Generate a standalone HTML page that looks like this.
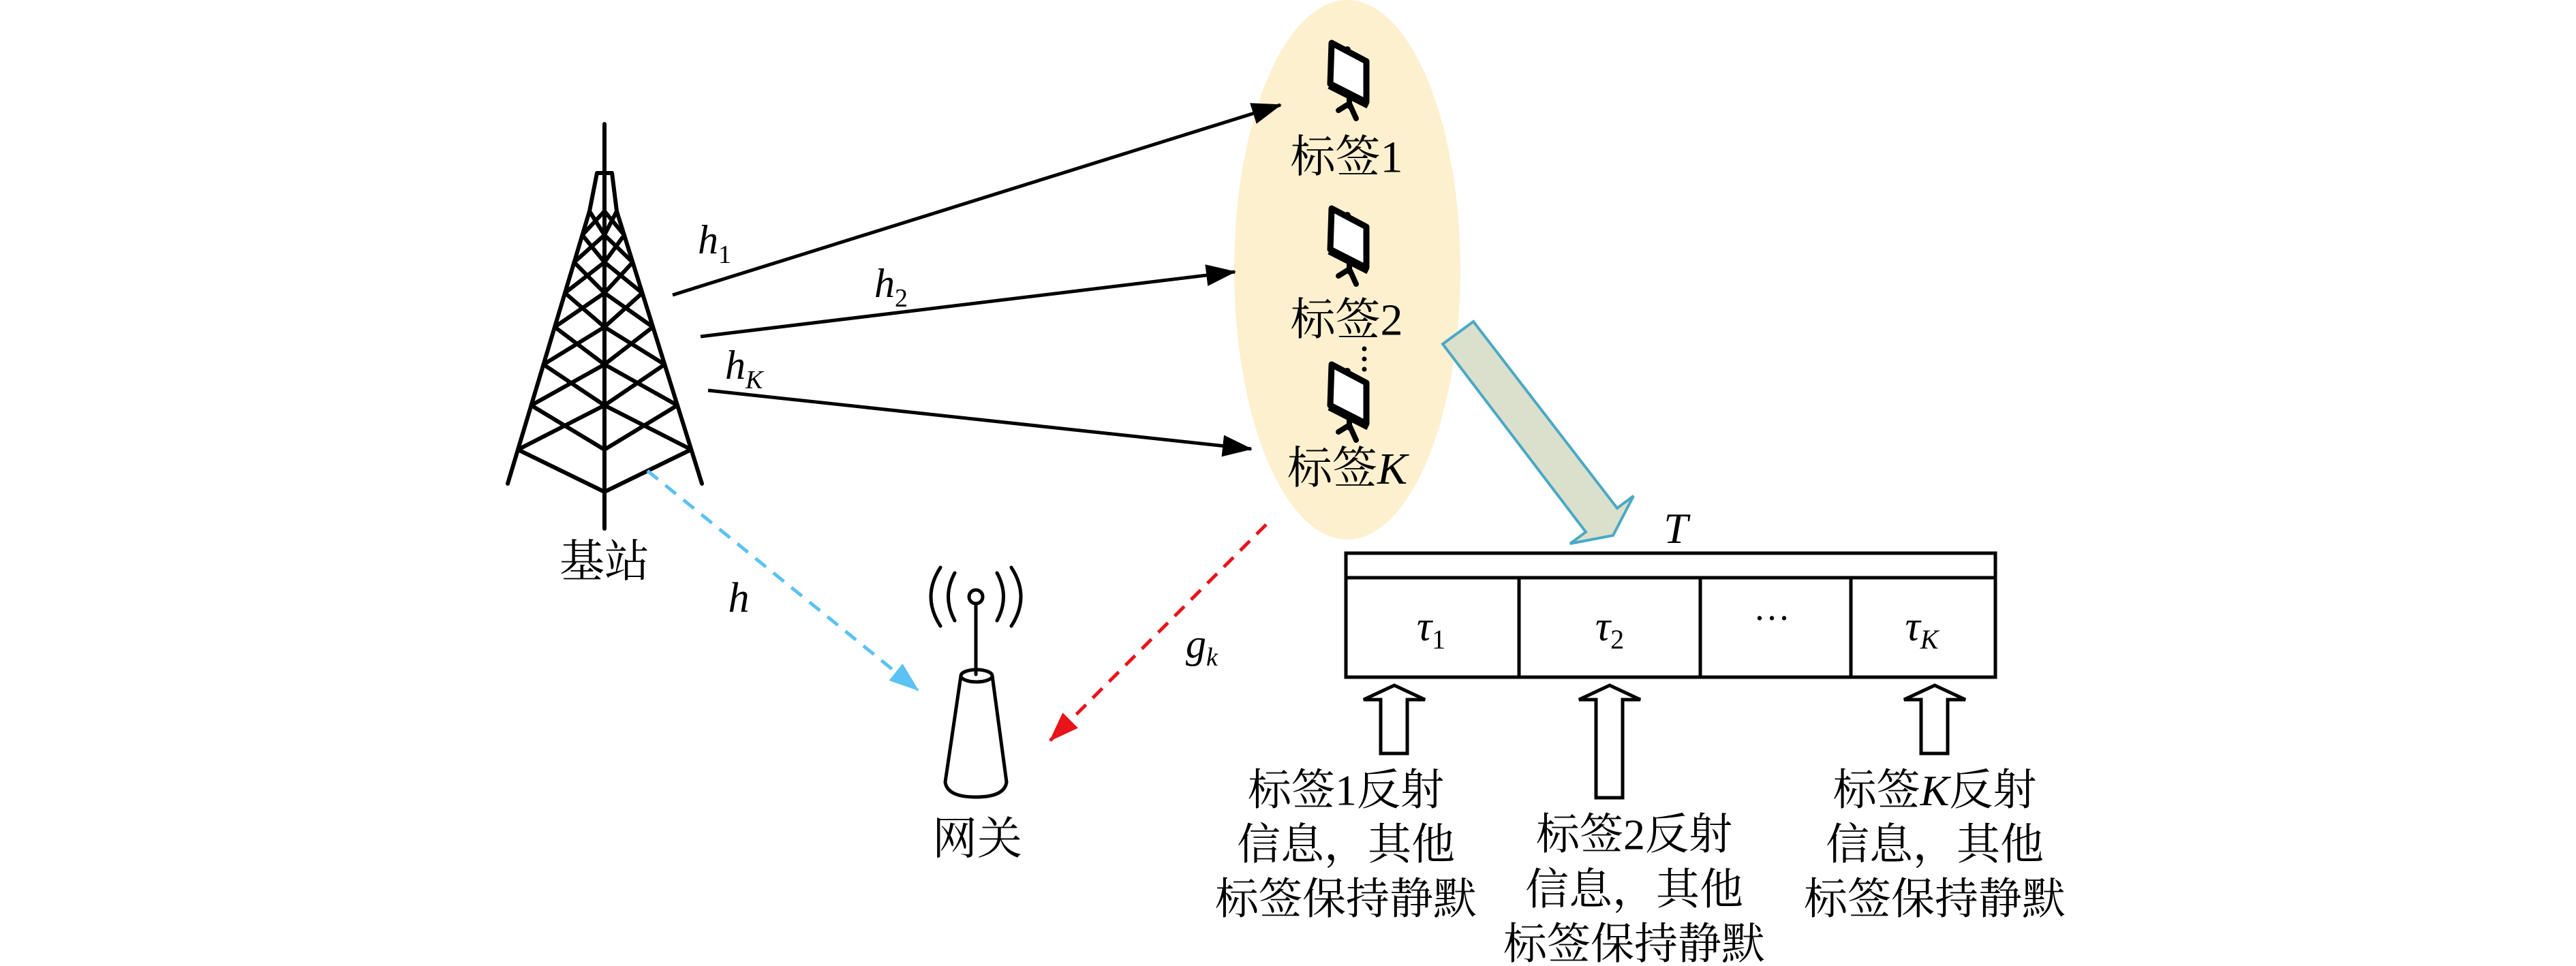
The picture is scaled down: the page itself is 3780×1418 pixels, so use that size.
<!DOCTYPE html>
<html><head><meta charset="utf-8"><style>
html,body{margin:0;padding:0;background:#fff;}
svg{display:block;}
.cj{font-family:"Liberation Serif","Noto Serif CJK SC",serif;font-size:66px;}
.m{font-family:"Liberation Serif",serif;font-style:italic;}
</style></head><body>
<svg width="3780" height="1418" viewBox="0 0 3780 1418" xmlns="http://www.w3.org/2000/svg">
<defs>
<marker id="ab" markerUnits="userSpaceOnUse" markerWidth="44" markerHeight="32" refX="42" refY="16" orient="auto"><path d="M0,0 L44,16 L0,32 Z" fill="#000"/></marker>
<marker id="abl" markerUnits="userSpaceOnUse" markerWidth="44" markerHeight="32" refX="42" refY="16" orient="auto"><path d="M0,0 L44,16 L0,32 Z" fill="#5bc2f2"/></marker>
<marker id="ar" markerUnits="userSpaceOnUse" markerWidth="44" markerHeight="32" refX="42" refY="16" orient="auto"><path d="M0,0 L44,16 L0,32 Z" fill="#e8131b"/></marker>
<g id="tag">
<polygon points="4,3 55,30 55,90 2,63" fill="#fff" stroke="#000" stroke-width="9" stroke-linejoin="round"/>
<line x1="0" y1="67" x2="57" y2="96" stroke="#000" stroke-width="7"/>
<circle cx="27" cy="13" r="5" fill="#000"/>
<path d="M30,82 L30,96 M30,92 L14,102 M30,92 L40,114" stroke="#000" stroke-width="8" fill="none" stroke-linecap="round"/>
</g>
</defs>

<ellipse cx="1977" cy="396" rx="166" ry="396" fill="#fdf0cf"/>

<g stroke="#000" stroke-width="6" fill="none" stroke-linecap="round" stroke-linejoin="round">
<line x1="887" y1="182" x2="887" y2="776"/>
<path d="M876,254 L865,310 L745,710 M898,254 L905,310 L1030,710 M876,254 L898,254"/>
<path d="M865 310 L887 345 L905 310 M854.5 345 L887 310 L916 345
M854.5 345 L887 385 L916 345 M842.5 385 L887 345 L928.4 385
M842.5 385 L887 430 L928.4 385 M829 430 L887 385 L942.5 430
M829 430 L887 480 L942.5 430 M814 480 L887 430 L958 480
M814 480 L887 535 L958 480 M797.5 535 L887 480 L975.3 535
M797.5 535 L887 595 L975.3 535 M779.5 595 L887 535 L994 595
M779.5 595 L887 660 L994 595 M760 660 L887 595 L1014.4 660
M760 660 L887 722 L1014 660"/>
</g>
<text class="cj" x="887" y="825" text-anchor="middle" dominant-baseline="central">基站</text>

<g stroke="#000" stroke-width="5">
<line x1="987" y1="433" x2="1879" y2="154" marker-end="url(#ab)"/>
<line x1="1028" y1="494" x2="1812" y2="399" marker-end="url(#ab)"/>
<line x1="1039" y1="573" x2="1836" y2="659" marker-end="url(#ab)"/>
</g>
<text class="m" x="1024" y="372" font-size="60">h<tspan font-size="38" font-style="normal" dy="14">1</tspan></text>
<text class="m" x="1283" y="436" font-size="60">h<tspan font-size="38" font-style="normal" dy="14">2</tspan></text>
<text class="m" x="1064" y="556" font-size="60">h<tspan font-size="38" dy="14">K</tspan></text>

<line x1="950" y1="691" x2="1347" y2="1013" stroke="#5bc2f2" stroke-width="5" stroke-dasharray="20,14" marker-end="url(#abl)"/>
<text class="m" x="1084" y="898" font-size="62" text-anchor="middle">h</text>
<line x1="1858" y1="770" x2="1541" y2="1087" stroke="#e8131b" stroke-width="5" stroke-dasharray="20,14" marker-end="url(#ar)"/>
<text class="m" x="1740" y="965" font-size="60">g<tspan font-size="38" dy="12">k</tspan></text>

<g stroke="#000" stroke-width="5" fill="none" stroke-linecap="round">
<circle cx="1432" cy="876" r="10" fill="#fff"/>
<line x1="1432" y1="886" x2="1432" y2="990"/>
<path d="M1401,841 Q1382,876 1401,911 M1463,841 Q1482,876 1463,911"/>
<path d="M1380,833 Q1352,876 1380,919 M1484,833 Q1512,876 1484,919"/>
<path d="M1410,992 L1387,1148 Q1390,1170 1432,1170 Q1474,1170 1477,1148 L1456,992"/>
<ellipse cx="1433" cy="992" rx="23" ry="9"/>
</g>
<text class="cj" x="1434" y="1232" text-anchor="middle" dominant-baseline="central">网关</text>

<use href="#tag" x="1950" y="60"/>
<use href="#tag" x="1950" y="303"/>
<use href="#tag" x="1950" y="532"/>
<text class="cj" x="1976" y="231" text-anchor="middle" dominant-baseline="central">标签1</text>
<text class="cj" x="1976" y="470" text-anchor="middle" dominant-baseline="central">标签2</text>
<text class="cj" x="1977" y="688" text-anchor="middle" dominant-baseline="central">标签<tspan class="m">K</tspan></text>
<g fill="#000"><circle cx="2002" cy="512" r="3.5"/><circle cx="2002" cy="527" r="3.5"/><circle cx="2002" cy="542" r="3.5"/></g>

<polygon points="2117,505 2162,472 2373,746 2397,728 2367,786 2304,798 2327,781" fill="#dae0cc" stroke="#4aa8c6" stroke-width="4" stroke-linejoin="miter"/>

<text class="m" x="2459" y="797" font-size="64" text-anchor="middle">T</text>
<g stroke="#000" stroke-width="5" fill="none">
<rect x="1975" y="812" width="953" height="182"/>
<line x1="1975" y1="848" x2="2928" y2="848"/>
<line x1="2229" y1="848" x2="2229" y2="994"/>
<line x1="2495" y1="848" x2="2495" y2="994"/>
<line x1="2716" y1="848" x2="2716" y2="994"/>
</g>
<text class="m" x="2100" y="940" font-size="62" text-anchor="middle">τ<tspan font-size="40" font-style="normal" dy="12">1</tspan></text>
<text class="m" x="2362" y="940" font-size="62" text-anchor="middle">τ<tspan font-size="40" font-style="normal" dy="12">2</tspan></text>
<text x="2600" y="925" font-size="54" font-family="Liberation Serif" text-anchor="middle">···</text>
<text class="m" x="2820" y="940" font-size="62" text-anchor="middle">τ<tspan font-size="40" dy="12">K</tspan></text>

<g fill="#fff" stroke="#000" stroke-width="5" stroke-linejoin="miter">
<polygon points="2046,1006 2091,1027 2065,1027 2065,1106 2026,1106 2026,1027 2001,1027"/>
<polygon points="2362,1006 2407,1027 2381,1027 2381,1171 2342,1171 2342,1027 2317,1027"/>
<polygon points="2839,1006 2884,1027 2858,1027 2858,1106 2819,1106 2819,1027 2794,1027"/>
</g>

<g class="cj" text-anchor="middle" dominant-baseline="central" style="font-size:64px">
<text x="1975" y="1160">标签1反射</text>
<text x="1975" y="1240">信息，其他</text>
<text x="1975" y="1320">标签保持静默</text>
<text x="2398" y="1225">标签2反射</text>
<text x="2398" y="1306">信息，其他</text>
<text x="2398" y="1386">标签保持静默</text>
<text x="2839" y="1160">标签<tspan class="m">K</tspan>反射</text>
<text x="2839" y="1240">信息，其他</text>
<text x="2839" y="1320">标签保持静默</text>
</g>
</svg>
</body></html>
